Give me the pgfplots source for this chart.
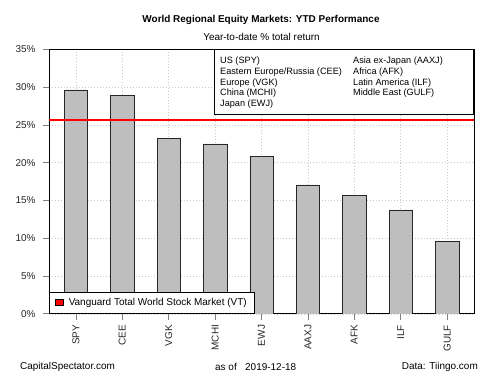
\documentclass[border=0pt]{standalone}
\usepackage{pgfplots}
\pgfplotsset{compat=1.18}
\usepackage{fontspec}
\setmainfont{Liberation Sans}
\definecolor{bargray}{HTML}{BEBEBE}
\definecolor{gridgray}{HTML}{C8C8C8}
\begin{document}
\begin{tikzpicture}[x=1bp,y=1bp]
\useasboundingbox (0,0) rectangle (500,375);
\begin{axis}[
  at={(49bp,61.2bp)}, anchor=south west,
  scale only axis, width=425bp, height=264.3bp,
  xmin=-0.58, xmax=8.58, ymin=0, ymax=35,
  axis line style={black, line width=0.8pt},
  xtick={0,...,8},
  xticklabels={SPY,CEE,VGK,MCHI,EWJ,AAXJ,AFK,ILF,GULF},
  ytick={0,5,...,35},
  yticklabels={0\%,5\%,10\%,15\%,20\%,25\%,30\%,35\%},
  tick align=outside,
  major tick length=6bp,
  tick style={gray, line width=0.8pt},
  xtick pos=bottom, ytick pos=left,
  x tick label style={rotate=90, anchor=east, font=\fontsize{10}{12}\selectfont, color=black!85, inner sep=0pt},
  xticklabel shift=5bp,
  y tick label style={font=\fontsize{10}{12}\selectfont, color=black!85},
  yticklabel shift=4bp,
  grid=major,
  major grid style={gridgray, line width=0.6pt, dash pattern=on 1bp off 2bp},
  legend style={at={(0,0)}, anchor=south west, draw=black, line width=0.6pt, fill=white,
    font=\fontsize{10}{12}\selectfont, inner xsep=6bp, inner ysep=4.5bp, row sep=0pt},
  legend cell align=left,
]
\addplot[ybar, bar width=23.4bp, fill=bargray, draw=black!85, line width=0.6pt, forget plot]
  coordinates {(0,29.65) (1,28.95) (2,23.2) (3,22.5) (4,20.85) (5,17.06) (6,15.64) (7,13.75) (8,9.54)};
\addplot[red, line width=1.6pt,
  legend image code/.code={\draw[black, line width=0.5pt, fill=red] (0bp,-2.4bp) rectangle (7.5bp,3.4bp);}]
  coordinates {(-0.58,25.7) (8.58,25.7)};
\addlegendentry{\hspace{3.5bp}Vanguard Total World Stock Market (VT)}
\node[draw=black, line width=0.6pt, fill=white, anchor=north east, inner sep=0pt,
  minimum width=259bp, minimum height=64bp] at (rel axis cs:1,1) {};
\node[anchor=north west, inner sep=0pt, font=\fontsize{9.2}{10.6}\selectfont, align=left]
  at ([xshift=-254bp, yshift=-6.8bp]rel axis cs:1,1)
  {\begin{tabular}{@{}p{133bp}@{}l@{}}
   US (SPY) & Asia ex-Japan (AAXJ)\\
   Eastern Europe/Russia (CEE) & Africa (AFK)\\
   Europe (VGK) & Latin America (ILF)\\
   China (MCHI) & Middle East (GULF)\\
   Japan (EWJ) & \\
   \end{tabular}};
\end{axis}
\node[font=\bfseries\fontsize{10}{12}\selectfont] at (261,355) {World Regional Equity Markets: YTD Performance};
\node[font=\fontsize{10}{12}\selectfont] at (261.5,338) {Year-to-date \% total return};
\node[font=\fontsize{10}{12}\selectfont, anchor=west, inner sep=0pt] at (20,8) {CapitalSpectator.com};
\node[font=\fontsize{10}{12}\selectfont, anchor=west, inner sep=0pt] at (215,8) {as of};
\node[font=\fontsize{10}{12}\selectfont, anchor=west, inner sep=0pt] at (245,8) {2019-12-18};
\node[font=\fontsize{10}{12}\selectfont, anchor=east, inner sep=0pt] at (478,8) {Data: Tiingo.com};
\end{tikzpicture}
\end{document}
